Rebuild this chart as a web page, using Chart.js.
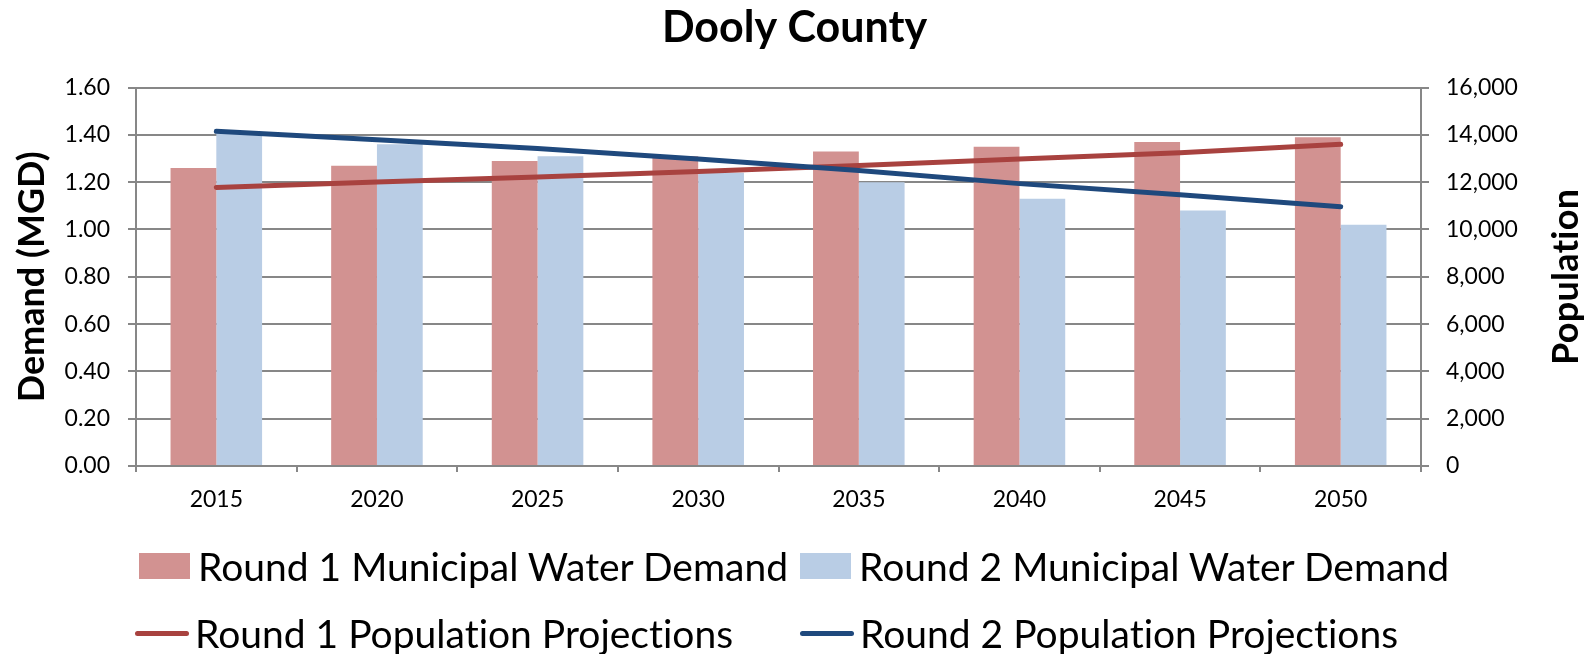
<!DOCTYPE html>
<html>
<head>
<meta charset="utf-8">
<script src="https://cdn.jsdelivr.net/npm/chart.js@4"></script>
<style>
  body { margin: 0; background: #fff; }
  #wrap { position: relative; width: 1589px; height: 654px; }
  #legend { position: absolute; left: 0; top: 0; width: 1589px; height: 654px; pointer-events: none;
            font-family: Lato, 'Open Sans', sans-serif; font-size: 39px; color: #000;
            font-variant-ligatures: none; font-feature-settings: "liga" 0; }
  .item { position: absolute; display: flex; align-items: center; white-space: nowrap; }
  .box { width: 51px; height: 26px; margin-right: 8px; }
  .ln { width: 54px; height: 5px; border-radius: 3px; margin-right: 6px; }
</style>
</head>
<body>
<div id="wrap">
  <canvas id="chart" width="1589" height="654"></canvas>
  <div id="legend"></div>
</div>
<script>
// valores
const years = ['2015', '2020', '2025', '2030', '2035', '2040', '2045', '2050'];
const round1Demand = [1.26, 1.27, 1.29, 1.31, 1.33, 1.35, 1.37, 1.39];
const round2Demand = [1.41, 1.36, 1.31, 1.24, 1.20, 1.13, 1.08, 1.02];
const round1Pop = [11780, 12010, 12220, 12450, 12710, 12980, 13250, 13600];
const round2Pop = [14150, 13800, 13420, 12980, 12490, 11940, 11470, 10960];

const FONT = "Lato, 'Open Sans', sans-serif";
const GRID = '#878787';

// título del eje derecho, de abajo hacia arriba
const rightTitle = {
  id: 'rightTitle',
  afterDraw(chart) {
    const { ctx, chartArea } = chart;
    ctx.save();
    ctx.translate(1566, (chartArea.top + chartArea.bottom) / 2);
    ctx.rotate(-Math.PI / 2);
    ctx.font = 'bold 36px ' + FONT;
    ctx.letterSpacing = '0.3px'; // evita la ligadura "ti"
    ctx.fillStyle = '#000';
    ctx.textAlign = 'center';
    ctx.textBaseline = 'middle';
    ctx.fillText('Population', 0, 0);
    ctx.restore();
  }
};

const chart = new Chart(document.getElementById('chart').getContext('2d'), {
  type: 'bar',
  data: {
    labels: years,
    datasets: [
      {
        type: 'line', label: 'Round 2 Population Projections', data: round2Pop,
        yAxisID: 'y2', borderColor: '#1F497D', borderWidth: 5, pointRadius: 0,
        borderCapStyle: 'round', tension: 0, order: 0, fill: false
      },
      {
        type: 'line', label: 'Round 1 Population Projections', data: round1Pop,
        yAxisID: 'y2', borderColor: '#A8423F', borderWidth: 5, pointRadius: 0,
        borderCapStyle: 'round', tension: 0, order: 1, fill: false
      },
      {
        label: 'Round 1 Municipal Water Demand', data: round1Demand, yAxisID: 'y',
        backgroundColor: '#D29291', barPercentage: 1, categoryPercentage: 0.57, order: 2
      },
      {
        label: 'Round 2 Municipal Water Demand', data: round2Demand, yAxisID: 'y',
        backgroundColor: '#B9CDE5', barPercentage: 1, categoryPercentage: 0.57, order: 2
      }
    ]
  },
  options: {
    responsive: false,
    animation: false,
    layout: { padding: 0 },
    plugins: {
      legend: { display: false },
      tooltip: { enabled: false },
      title: {
        display: true, text: 'Dooly County', color: '#000',
        font: { family: FONT, size: 43, weight: 'bold', lineHeight: 1.2 },
        padding: { top: 2, bottom: 34 }
      }
    },
    scales: {
      x: {
        offset: true,
        grid: { drawOnChartArea: false, offset: true, tickLength: 6, color: GRID, lineWidth: 2 },
        border: { color: GRID, width: 2 },
        ticks: { color: '#000', padding: 14, font: { family: FONT, size: 23 } },
        afterFit: s => { s.height = 654 - 466; }
      },
      y: {
        position: 'left', min: 0, max: 1.6,
        grid: { color: GRID, lineWidth: 2, tickLength: 8 },
        border: { color: GRID, width: 2 },
        ticks: { stepSize: 0.2, color: '#000', padding: 18, font: { family: FONT, size: 23 },
                 callback: v => v.toFixed(2) },
        title: { display: true, text: 'Demand (MGD)', color: '#000',
                 font: { family: FONT, size: 36, weight: 'bold', lineHeight: 1.2 },
                 padding: { top: 11, bottom: 0 } },
        afterFit: s => { s.width = 136; }
      },
      y2: {
        position: 'right', min: 0, max: 16000,
        grid: { drawOnChartArea: false, color: GRID, lineWidth: 2, tickLength: 8 },
        border: { color: GRID, width: 2 },
        ticks: { stepSize: 2000, color: '#000', padding: 17, font: { family: FONT, size: 23 },
                 callback: v => v.toLocaleString('en-US') },
        afterFit: s => { s.width = 1589 - 1421; }
      }
    }
  },
  plugins: [rightTitle]
});

// leyenda en dos columnas, como en el original
const legendPos = {
  'Round 1 Municipal Water Demand': [139, 566],
  'Round 2 Municipal Water Demand': [800, 566],
  'Round 1 Population Projections': [135, 633],
  'Round 2 Population Projections': [800, 633]
};
const legendOrder = [2, 3, 1, 0];
const legendEl = document.getElementById('legend');
legendOrder.forEach(i => {
  const ds = chart.data.datasets[i];
  const [x, y] = legendPos[ds.label];
  const item = document.createElement('div');
  item.className = 'item';
  item.style.left = x + 'px';
  item.style.top = (y - 24) + 'px';
  item.style.height = '48px';
  const mark = document.createElement('span');
  if (ds.type === 'line') {
    mark.className = 'ln';
    mark.style.background = ds.borderColor;
  } else {
    mark.className = 'box';
    mark.style.background = ds.backgroundColor;
  }
  const txt = document.createElement('span');
  txt.textContent = ds.label;
  item.appendChild(mark);
  item.appendChild(txt);
  legendEl.appendChild(item);
});
</script>
</body>
</html>
